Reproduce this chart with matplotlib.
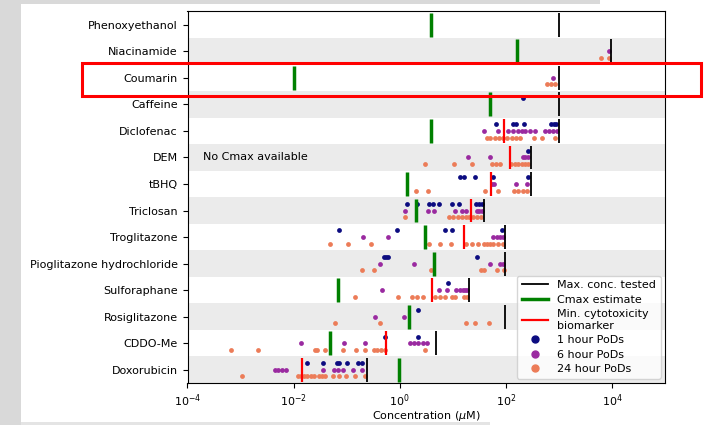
import matplotlib
matplotlib.use('Agg')
import matplotlib.pyplot as plt
from matplotlib.lines import Line2D
from matplotlib.patches import Rectangle
from matplotlib.ticker import NullLocator
import numpy as np

compounds = ['Phenoxyethanol', 'Niacinamide', 'Coumarin', 'Caffeine', 'Diclofenac',
             'DEM', 'tBHQ', 'Triclosan', 'Troglitazone', 'Pioglitazone hydrochloride',
             'Sulforaphane', 'Rosiglitazone', 'CDDO-Me', 'Doxorubicin']

# concentrations in uM (None = not available)
cmax = [3.9, 160, 0.01, 50, 3.9, None, 1.37, 2.0, 3.0, 4.4, 0.068, 1.5, 0.049, 0.95]
max_conc = [1000, 9500, 1000, 1000, 1000, 300, 300, 39, 95, 95, 20, 95, 4.8, 0.24]
min_cyto = [None, None, None, None, 92, 120, 52, 22, 16, None, 4.1, None, 0.55, 0.0145]

# points of departure, log10(uM)
pods_1h = [
    [], [], [], [2.32],
    [1.82, 2.14, 2.19, 2.34, 2.86, 2.91, 2.95],
    [2.42],
    [1.14, 1.21, 1.42, 1.76, 2.41],
    [0.13, 0.32, 0.55, 0.63, 0.74, 0.99, 1.12, 1.44, 1.50, 1.56],
    [-1.14, -0.06, 0.85, 0.98, 1.93],
    [-0.29, -0.25, -0.22, 1.46],
    [0.91],
    [0.34],
    [-0.28, 0.34],
    [-1.75, -1.45, -1.19, -1.14, -1.00, -0.78, -0.71],
]
pods_6h = [
    [], [3.95], [2.89], [],
    [1.59, 1.85, 2.05, 2.14, 2.22, 2.30, 2.37, 2.45, 2.55, 2.74, 2.82, 2.88, 2.96],
    [1.29, 1.70, 2.32, 2.37, 2.42],
    [1.73, 1.78, 2.19, 2.40],
    [0.10, 0.54, 0.65, 1.04, 1.17, 1.24, 1.45, 1.50, 1.56],
    [-0.70, -0.22, 1.76, 1.83, 1.89, 1.94],
    [-0.37, 0.27, 1.70, 1.89, 1.94],
    [-0.34, 0.74, 0.90, 1.07, 1.14, 1.19, 1.23, 1.27],
    [-0.47, 0.09],
    [-1.86, -1.05, -0.66, 0.19, 0.27, 0.35, 0.43, 0.51],
    [-2.36, -2.30, -2.22, -2.15, -1.45, -1.24, -1.16, -1.06, -0.89, -0.72],
]
pods_24h = [
    [], [3.79, 3.95], [2.77, 2.85, 2.93], [],
    [1.64, 1.71, 1.80, 1.88, 1.95, 2.03, 2.11, 2.19, 2.27, 2.54, 2.69, 2.93],
    [0.48, 1.02, 1.37, 1.73, 1.81, 1.89, 2.10, 2.17, 2.23, 2.30, 2.36, 2.42],
    [0.30, 0.54, 1.61, 1.85, 2.16, 2.22, 2.33, 2.40],
    [0.10, 0.93, 1.01, 1.09, 1.17, 1.24, 1.31, 1.39, 1.46, 1.54],
    [-1.31, -0.98, -0.54, 0.55, 0.75, 0.96, 1.24, 1.36, 1.48, 1.58, 1.64, 1.70, 1.76, 1.86, 1.94],
    [-0.72, -0.49, 0.59, 1.53, 1.58, 1.83, 1.97],
    [-0.84, -0.03, 0.23, 0.32, 0.43, 0.66, 0.76, 0.85, 0.98, 1.05, 1.22, 1.26],
    [-1.22, -0.37, 1.24, 1.42, 1.69],
    [-3.18, -2.68, -1.60, -1.55, -1.40, -1.06, -0.82, -0.66, -0.48, -0.42, -0.35, -0.28, 0.48],
    [-2.98, -1.92, -1.87, -1.80, -1.74, -1.68, -1.62, -1.53, -1.47, -1.41, -1.25, -1.14,
     -1.01, -0.84, -0.66],
]

col_1h = '#0c0c80'
col_6h = '#9a2aa0'
col_24h = '#ec7c58'

fig = plt.figure(figsize=(7.04, 4.25), dpi=100)
ax = fig.add_axes([187.5 / 704, 1 - 383 / 425, (665 - 187.5) / 704, (383 - 11.5) / 425])

# alternate row shading
for i in range(len(compounds)):
    if i % 2 == 1:
        ax.axhspan(i - 0.5, i + 0.5, color='#ebebeb', zorder=0, lw=0)

# points of departure
for i in range(len(compounds)):
    for vals, off, c in ((pods_1h[i], -0.25, col_1h), (pods_6h[i], 0.0, col_6h),
                         (pods_24h[i], 0.25, col_24h)):
        if vals:
            ax.scatter(10 ** np.array(vals), np.full(len(vals), i + off), s=12, color=c,
                       lw=0, zorder=2)

# vertical markers
for i in range(len(compounds)):
    ax.vlines(max_conc[i], i - 0.45, i + 0.45, color='k', lw=1.3, zorder=3)
    if cmax[i] is not None:
        ax.vlines(cmax[i], i - 0.45, i + 0.45, color='green', lw=2.5, zorder=3)
    if min_cyto[i] is not None:
        ax.vlines(min_cyto[i], i - 0.45, i + 0.45, color='red', lw=1.6, zorder=3)

ax.text(1.95e-4, compounds.index('DEM'), 'No Cmax available', fontsize=8, va='center')

ax.set_xscale('log')
ax.set_xlim(1e-4, 1e5)
ax.set_ylim(len(compounds) - 0.5, -0.5)
ax.set_xticks([1e-4, 1e-2, 1e0, 1e2, 1e4])
ax.xaxis.set_minor_locator(NullLocator())
ax.set_yticks(range(len(compounds)))
ax.set_yticklabels(compounds)
ax.tick_params(labelsize=8)
ax.set_xlabel('Concentration ($\\mu$M)', fontsize=8, labelpad=0)

handles = [
    Line2D([], [], color='k', lw=1.3, label='Max. conc. tested'),
    Line2D([], [], color='green', lw=2.5, label='Cmax estimate'),
    Line2D([], [], color='red', lw=1.6, label='Min. cytotoxicity\nbiomarker'),
    Line2D([], [], color=col_1h, marker='o', ls='', ms=5, label='1 hour PoDs'),
    Line2D([], [], color=col_6h, marker='o', ls='', ms=5, label='6 hour PoDs'),
    Line2D([], [], color=col_24h, marker='o', ls='', ms=5, label='24 hour PoDs'),
]
ax.legend(handles=handles, loc='lower right', fontsize=8, handlelength=2.4,
          labelspacing=0.4, borderaxespad=0.4, handletextpad=0.8)

# grey page frame and highlight box around the screenshot
fig.patches.append(Rectangle((0, 0), 21 / 704, 1, transform=fig.transFigure,
                             color='#d9d9d9', lw=0, zorder=-1))
fig.patches.append(Rectangle((0, 1 - 4 / 425), 600 / 704, 4 / 425, transform=fig.transFigure,
                             color='#d9d9d9', lw=0, zorder=-1))
fig.patches.append(Rectangle((21 / 704, 0), 469 / 704, 3 / 425, transform=fig.transFigure,
                             color='#e4e4e4', lw=0, zorder=-1))
fig.patches.append(Rectangle((82 / 704, 1 - 96 / 425), 619 / 704, 33 / 425,
                             transform=fig.transFigure, fill=False, ec='red', lw=2.2,
                             zorder=10))

fig.savefig('out.png', dpi=100)
